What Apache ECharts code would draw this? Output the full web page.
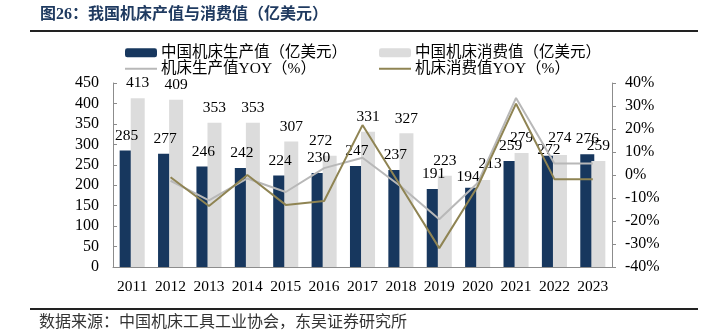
<!DOCTYPE html>
<html>
<head>
<meta charset="utf-8">
<script src="https://cdn.jsdelivr.net/npm/echarts@6/dist/echarts.min.js"></script>
<style>
  html, body { margin: 0; padding: 0; background: #fff; }
  #chart { width: 718px; height: 332px; }
</style>
</head>
<body>
<div id="chart"></div>
<script>
// 中国机床生产 / 消费（亿美元）及同比
const years = ['2011','2012','2013','2014','2015','2016','2017','2018','2019','2020','2021','2022','2023'];
const production = [285, 277, 246, 242, 224, 230, 247, 237, 191, 194, 259, 272, 276];
const consumption = [413, 409, 353, 353, 307, 272, 331, 327, 223, 213, 279, 274, 259];
const productionYoy = [null, -2.5, -11, -1.5, -7.4, 3, 7.5, -5, -19.2, -3.5, 33.5, 5, 5];
const consumptionYoy = [null, -1, -13.5, 0, -13, -11.3, 21.7, -5, -31.8, -5, 31, -1.8, -1.8];
const leftTicks = { min: 0, max: 450, interval: 50 };
const rightTicks = { min: -40, max: 40, interval: 10 };

const names = ['中国机床生产值（亿美元）', '中国机床消费值（亿美元）', '机床生产值YOY（%）', '机床消费值YOY（%）'];
const serif = "'Liberation Serif', 'Noto Sans CJK SC', serif";
const cjk = "'Liberation Serif', 'Noto Sans CJK SC', sans-serif";
const axisGray = '#8c8c8c';

// nudges for crowded value labels (by year index)
const prodLabelShift = { 9: [-4, 4], 11: [0, 9] };
const consLabelShift = { 5: [-9, 0], 9: [7, -1], 11: [0, -2] };

function withLabelShift(values, shifts) {
  return values.map((v, i) => shifts[i]
    ? { value: v, label: { offset: shifts[i] } }
    : v);
}

const chart = echarts.init(document.getElementById('chart'), null, { renderer: 'canvas' });

function legendAt(name, left, top, opts) {
  return Object.assign({
    data: [name],
    left: left, top: top,
    itemWidth: 32, itemHeight: 9, itemGap: 0,
    padding: 0,
    textStyle: { fontFamily: cjk, fontSize: 15.5, color: '#000', padding: [0, 0, 0, -1] },
    selectedMode: false
  }, opts || {});
}

const valueLabel = { show: true, position: 'top', distance: 7, fontFamily: serif, fontSize: 15.5, color: '#000' };

chart.setOption({
  animation: false,
  backgroundColor: '#fff',
  grid: { left: 113, right: 106, top: 83, bottom: 65, containLabel: false },
  legend: [
    legendAt(names[0], 125, 45),
    legendAt(names[1], 379, 45),
    legendAt(names[2], 125, 61, { icon: 'rect', itemHeight: 2 }),
    legendAt(names[3], 379, 61, { icon: 'rect', itemHeight: 2 })
  ],
  xAxis: {
    type: 'category',
    data: years,
    axisLine: { lineStyle: { color: axisGray, width: 1 } },
    axisTick: { inside: true, length: 6, lineStyle: { color: axisGray } },
    axisLabel: { interval: 0, fontFamily: serif, fontSize: 15.5, color: '#000', margin: 12 }
  },
  yAxis: [
    {
      type: 'value',
      min: leftTicks.min, max: leftTicks.max, interval: leftTicks.interval,
      axisLine: { show: true, lineStyle: { color: axisGray } },
      axisTick: { show: true, inside: true, length: 4, lineStyle: { color: axisGray } },
      splitLine: { show: false },
      axisLabel: { fontFamily: serif, fontSize: 16, color: '#000', margin: 14 }
    },
    {
      type: 'value',
      min: rightTicks.min, max: rightTicks.max, interval: rightTicks.interval,
      position: 'right',
      axisLine: { show: true, lineStyle: { color: axisGray } },
      axisTick: { show: true, length: 4, lineStyle: { color: axisGray } },
      splitLine: { show: false },
      axisLabel: { fontFamily: serif, fontSize: 16, color: '#000', margin: 13, formatter: '{value}%' }
    }
  ],
  series: [
    {
      name: names[0], type: 'bar', data: withLabelShift(production, prodLabelShift),
      barWidth: 14, barGap: '-21%',
      itemStyle: { color: '#17375e' },
      label: valueLabel
    },
    {
      name: names[1], type: 'bar', data: withLabelShift(consumption, consLabelShift),
      barWidth: 14,
      itemStyle: { color: '#dcdcdc' },
      label: valueLabel
    },
    {
      name: names[2], type: 'line', yAxisIndex: 1, data: productionYoy,
      symbol: 'none', connectNulls: false,
      lineStyle: { color: '#b8b8b8', width: 2 },
      itemStyle: { color: '#b8b8b8' }
    },
    {
      name: names[3], type: 'line', yAxisIndex: 1, data: consumptionYoy,
      symbol: 'none', connectNulls: false,
      lineStyle: { color: '#8f8453', width: 2 },
      itemStyle: { color: '#8f8453' }
    }
  ],
  graphic: [
    {
      type: 'text', left: 40, top: 7,
      style: { text: '图26：我国机床产值与消费值（亿美元）', fontFamily: cjk, fontSize: 16, fontWeight: 'bold', fill: '#1f3a60' }
    },
    {
      type: 'line', shape: { x1: 30, y1: 31, x2: 698, y2: 31 },
      style: { stroke: '#222', lineWidth: 2 }
    },
    {
      type: 'line', shape: { x1: 30, y1: 309, x2: 698, y2: 309 },
      style: { stroke: '#222', lineWidth: 2 }
    },
    {
      type: 'text', left: 39, top: 315,
      style: { text: '数据来源：中国机床工具工业协会，东吴证券研究所', fontFamily: cjk, fontSize: 16, fill: '#333' }
    }
  ]
});
</script>
</body>
</html>
